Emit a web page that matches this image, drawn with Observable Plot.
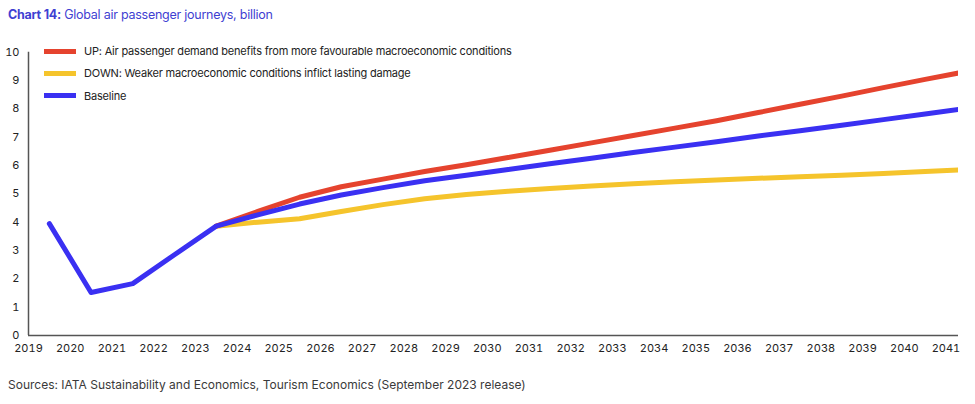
<!DOCTYPE html>
<html><head><meta charset="utf-8">
<script src="https://cdn.jsdelivr.net/npm/d3@7"></script>
<script src="https://cdn.jsdelivr.net/npm/@observablehq/plot@0.6"></script>
<style>
body{margin:0;background:#fff;font-family:Inter,sans-serif;}
#wrap{position:relative;width:975px;height:404px;overflow:hidden;}
#title{position:absolute;left:8px;top:6px;font-size:12.5px;letter-spacing:-0.25px;color:#3f3fd2;line-height:18px;white-space:nowrap;}
#title b{font-weight:700;}
#chart{position:absolute;left:0;top:30px;}
#legend{position:absolute;left:44px;top:40px;font-size:11px;letter-spacing:-0.2px;color:#222;}
.row{display:flex;align-items:center;height:22.3px;white-space:nowrap;}
.sw{width:32px;height:5px;margin-right:8px;}
#caption{position:absolute;left:8px;top:377px;font-size:12px;color:#3a3a3a;white-space:nowrap;}
</style></head>
<body>
<div id="wrap">
  <div id="title"><b>Chart 14:</b> Global air passenger journeys, billion</div>
  <div id="chart"></div>
  <div id="legend"></div>
  <div id="caption">Sources: IATA Sustainability and Economics, Tourism Economics (September 2023 release)</div>
</div>
<script>
const years = d3.range(2019, 2042);
const baseline = [3.95, 1.52, 1.83, 2.85, 3.86, 4.26, 4.64, 4.96, 5.22, 5.46, 5.66, 5.86, 6.06, 6.26, 6.46, 6.65, 6.84, 7.04, 7.23, 7.42, 7.62, 7.82, 8.02];
const scenarioYears = d3.range(2023, 2042);
const up = [3.86, 4.38, 4.88, 5.25, 5.52, 5.79, 6.03, 6.28, 6.54, 6.80, 7.06, 7.32, 7.58, 7.87, 8.16, 8.45, 8.75, 9.04, 9.32];
const down = [3.86, 4.00, 4.12, 4.38, 4.62, 4.83, 4.98, 5.09, 5.19, 5.28, 5.36, 5.43, 5.49, 5.55, 5.60, 5.66, 5.72, 5.79, 5.86];
const yTicks = d3.range(0, 11);
const xTicks = d3.range(2019, 2042);

const seriesNames = ["UP: Air passenger demand benefits from more favourable macroeconomic conditions",
  "DOWN: Weaker macroeconomic conditions inflict lasting damage",
  "Baseline"];
const colors = ["#e5432e", "#f5c42c", "#3a30f2"];

const baseData = years.map((y, i) => ({year: y, value: baseline[i]}));
const upData = scenarioYears.map((y, i) => ({year: y, value: up[i]}));
const downData = scenarioYears.map((y, i) => ({year: y, value: down[i]}));

const lineOpts = {x: d => d.year + 0.5, y: "value", strokeWidth: 5, strokeLinejoin: "round", clip: true};

const chart = Plot.plot({
  width: 975,
  height: 340,
  marginLeft: 28,
  marginRight: 17,
  marginTop: 21.7,
  marginBottom: 35,
  style: {fontFamily: "Inter, sans-serif", fontSize: "11px", color: "#222", background: "#fff", overflow: "visible"},
  x: {domain: [2019, 2041.3]},
  y: {domain: [0, 10]},
  marks: [
    Plot.axisY({ticks: yTicks, tickSize: 0, tickPadding: 9, label: null, fontSize: 11}),
    Plot.axisX({ticks: xTicks, tickFormat: d => String(d), tickSize: 0, tickPadding: 9, label: null, fontSize: 11}),
    Plot.line(downData, {...lineOpts, stroke: colors[1]}),
    Plot.line(upData, {...lineOpts, stroke: colors[0]}),
    Plot.line(baseData, {...lineOpts, stroke: colors[2]}),
    Plot.ruleX([2019], {y1: 0, y2: 10, stroke: "#555", strokeWidth: 1.5}),
    Plot.ruleY([0], {stroke: "#555", strokeWidth: 1.5})
  ]
});
document.getElementById("chart").appendChild(chart);

const legend = document.getElementById("legend");
seriesNames.forEach((n, i) => {
  const r = document.createElement("div");
  r.className = "row";
  r.innerHTML = `<span class="sw" style="background:${colors[i]}"></span><span>${n}</span>`;
  legend.appendChild(r);
});
</script>
</body></html>
